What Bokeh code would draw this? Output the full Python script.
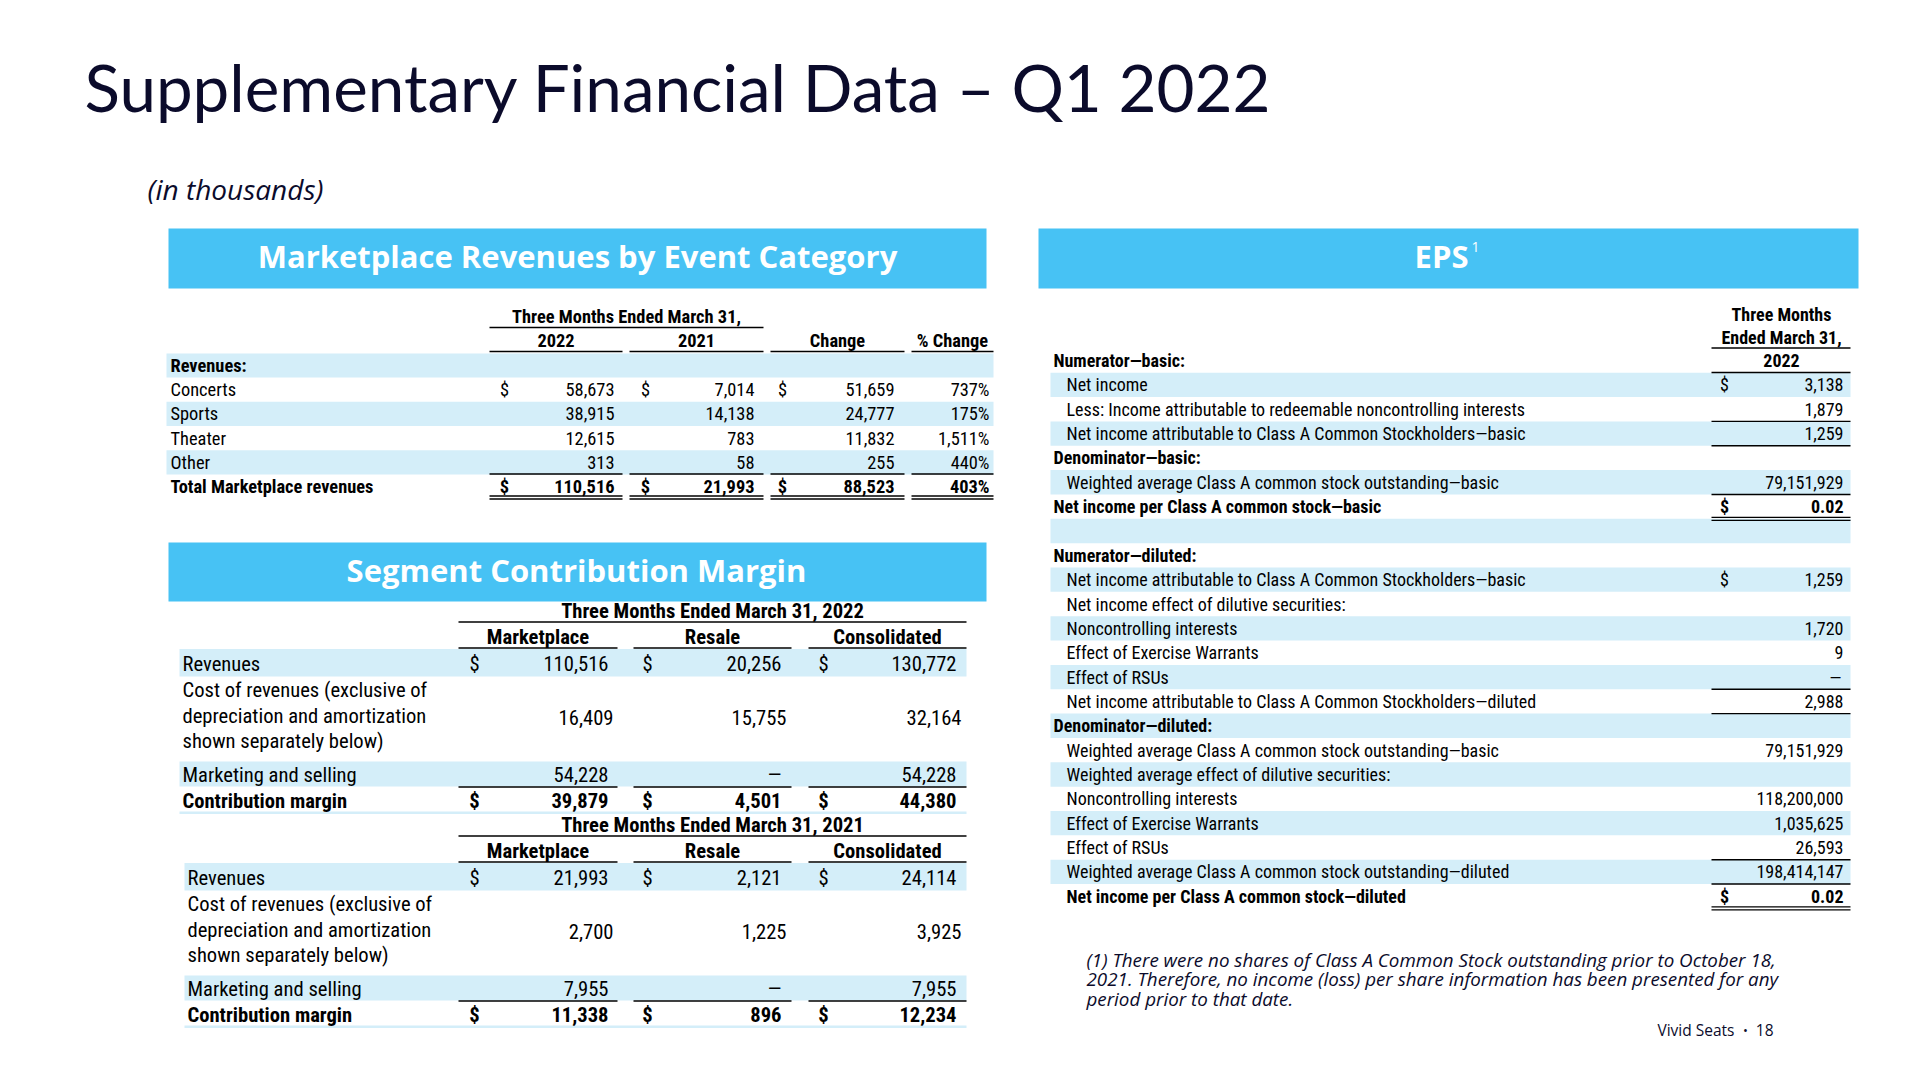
from collections import defaultdict
from bokeh.plotting import figure
from bokeh.models import Range1d
from bokeh.core.properties import value
from bokeh.embed import file_html
from bokeh.resources import INLINE

# ---------------- data ----------------
TITLE = "Supplementary Financial Data \u2013 Q1 2022"
SUBTITLE = "(in thousands)"

rev_title = "Marketplace Revenues by Event Category"
rev_period = "Three Months Ended March 31,"
rev_columns = ["2022", "2021", "Change", "% Change"]
rev_section = "Revenues:"
rev_categories = ["Concerts", "Sports", "Theater", "Other"]
rev_2022 = [58673, 38915, 12615, 313]
rev_2021 = [7014, 14138, 783, 58]
rev_change = [51659, 24777, 11832, 255]
rev_pct = ["737%", "175%", "1,511%", "440%"]
rev_total_label = "Total Marketplace revenues"
rev_total = [110516, 21993, 88523]
rev_total_pct = "403%"

seg_title = "Segment Contribution Margin"
seg_periods = ["Three Months Ended March 31, 2022", "Three Months Ended March 31, 2021"]
seg_columns = ["Marketplace", "Resale", "Consolidated"]
seg_row_labels = ["Revenues",
                  ["Cost of revenues (exclusive of", "depreciation and amortization", "shown separately below)"],
                  "Marketing and selling",
                  "Contribution margin"]
seg22_revenues = [110516, 20256, 130772]
seg22_cost = [16409, 15755, 32164]
seg22_marketing = [54228, 0, 54228]
seg22_margin = [39879, 4501, 44380]
seg21_revenues = [21993, 2121, 24114]
seg21_cost = [2700, 1225, 3925]
seg21_marketing = [7955, 0, 7955]
seg21_margin = [11338, 896, 12234]

eps_title = "EPS"
eps_header = ["Three Months", "Ended March 31,", "2022"]
eps_labels = [
    "Numerator\u2014basic:",
    "Net income",
    "Less: Income attributable to redeemable noncontrolling interests",
    "Net income attributable to Class A Common Stockholders\u2014basic",
    "Denominator\u2014basic:",
    "Weighted average Class A common stock outstanding\u2014basic",
    "Net income per Class A common stock\u2014basic",
    "",
    "Numerator\u2014diluted:",
    "Net income attributable to Class A Common Stockholders\u2014basic",
    "Net income effect of dilutive securities:",
    "Noncontrolling interests",
    "Effect of Exercise Warrants",
    "Effect of RSUs",
    "Net income attributable to Class A Common Stockholders\u2014diluted",
    "Denominator\u2014diluted:",
    "Weighted average Class A common stock outstanding\u2014basic",
    "Weighted average effect of dilutive securities:",
    "Noncontrolling interests",
    "Effect of Exercise Warrants",
    "Effect of RSUs",
    "Weighted average Class A common stock outstanding\u2014diluted",
    "Net income per Class A common stock\u2014diluted",
]
eps_values = [None, 3138, 1879, 1259, None, 79151929, 0.02, None, None, 1259, None,
              1720, 9, 0, 2988, None, 79151929, None, 118200000, 1035625, 26593,
              198414147, 0.02]

footnote = ["(1) There were no shares of Class A Common Stock outstanding prior to October 18,",
            "2021. Therefore, no income (loss) per share information has been presented for any",
            "period prior to that date."]
footer_brand = "Vivid Seats"
footer_page = "18"

# ---------------- styles ----------------
NAVY = "#0b0b2b"
BLUE = "#47c2f4"
SHADE = "#d4eef9"
NARROW = "Liberation Sans Narrow, Roboto Condensed, sans-serif"
TITLE_FONT = "Lato"
HEAD_FONT = "Open Sans"

p = figure(width=1904, height=1064, x_range=Range1d(0, 1904), y_range=Range1d(1064, 0),
           output_backend="svg", toolbar_location=None, min_border=0,
           x_axis_location=None, y_axis_location=None)
p.grid.visible = False
p.outline_line_color = None
p.background_fill_color = "white"
p.border_fill_color = "white"

texts = defaultdict(lambda: dict(x=[], y=[], text=[]))
lines = defaultdict(lambda: dict(x0=[], y0=[], x1=[], y1=[]))
quads = defaultdict(lambda: dict(left=[], right=[], top=[], bottom=[]))


def T(x, y, s, size, font=NARROW, style="normal", align="left", color="#000000"):
    d = texts[(font, size, style, align, color)]
    d["x"].append(x); d["y"].append(y); d["text"].append(s)


def L(x0, y0, x1, y1, color="#000000", w=1.3):
    d = lines[(color, w)]
    d["x0"].append(x0); d["y0"].append(y0); d["x1"].append(x1); d["y1"].append(y1)


def Q(l, r, t, b, color):
    d = quads[color]
    d["left"].append(l); d["right"].append(r); d["top"].append(t); d["bottom"].append(b)


def fmt(v):
    if v is None:
        return ""
    if v == 0:
        return "\u2014"
    if isinstance(v, float):
        return f"{v:.2f}"
    return f"{v:,}"


# ---------------- title ----------------
T(84, 86, TITLE, 65.5, TITLE_FONT, "normal", "left", NAVY)
T(147, 188, SUBTITLE, 28, HEAD_FONT, "italic", "left", NAVY)

# ---------------- table 1 ----------------
Q(168, 986, 228, 288, BLUE)
T(577, 255.5, rev_title, 31, HEAD_FONT, "bold", "center", "#ffffff")
FS1 = 18.4
col_seg1 = [(489, 622), (629, 763), (770, 904), (911, 993)]
col_right1 = [614, 754, 894, 989]
dollar1 = [504, 645, 782]
T(626, 316, rev_period, FS1, style="bold", align="center")
L(489, 327, 763, 327, w=1.6)
for (a, b), name in zip(col_seg1, rev_columns):
    T((a + b) / 2, 340, name, FS1, style="bold", align="center")
    L(a, 351, b, 351, w=1.6)
row_y1 = [365 + i * 24.2 for i in range(6)]
for i in (0, 2, 4):
    Q(166, 993, row_y1[i] - 12.1, row_y1[i] + 12.1, SHADE)
T(170, row_y1[0], rev_section, FS1, style="bold")
for i, cat in enumerate(rev_categories):
    y = row_y1[i + 1]
    T(170, y, cat, FS1)
    vals = [fmt(rev_2022[i]), fmt(rev_2021[i]), fmt(rev_change[i]), rev_pct[i]]
    for r, s in zip(col_right1, vals):
        T(r, y, s, FS1, align="right")
    if i == 0:
        for dx in dollar1:
            T(dx, y, "$", FS1, align="center")
yt = row_y1[5]
T(170, yt, rev_total_label, FS1, style="bold")
for r, s in zip(col_right1, [fmt(v) for v in rev_total] + [rev_total_pct]):
    T(r, yt, s, FS1, style="bold", align="right")
for dx in dollar1:
    T(dx, yt, "$", FS1, style="bold", align="center")
for a, b in col_seg1:
    L(a, yt - 12.5, b, yt - 12.5, w=1.3)
    L(a, yt + 9.5, b, yt + 9.5, w=1.4)
    L(a, yt + 12.5, b, yt + 12.5, w=1.4)

# ---------------- segment contribution margin ----------------
Q(168, 986, 542, 601, BLUE)
T(576, 569, seg_title, 31, HEAD_FONT, "bold", "center", "#ffffff")
FS2 = 20.6
col_seg2 = [(458, 617), (633, 791), (808, 966)]
col_right2 = [608, 781, 956]
dollar2 = [474, 647, 823]
blocks = [
    (610, 182, seg_periods[0], [seg22_revenues, seg22_cost, seg22_marketing, seg22_margin]),
    (824, 187, seg_periods[1], [seg21_revenues, seg21_cost, seg21_marketing, seg21_margin]),
]
for H, lx, period, rows in blocks:
    T(712, H, period, FS2, style="bold", align="center")
    L(458, H + 11.5, 966, H + 11.5, w=1.6)
    for (a, b), name in zip(col_seg2, seg_columns):
        T((a + b) / 2, H + 26, name, FS2, style="bold", align="center")
        L(a, H + 37.5, b, H + 37.5, w=1.6)
    Q(lx - 3, 966, H + 38.5, H + 66, SHADE)
    Q(lx - 3, 966, H + 151, H + 176, SHADE)
    Q(lx - 3, 966, H + 201, H + 203.5, SHADE)
    # revenues
    y = H + 53
    T(lx, y, seg_row_labels[0], FS2)
    for r, d, v in zip(col_right2, dollar2, rows[0]):
        T(d, y, "$", FS2, align="center")
        T(r, y, fmt(v), FS2, align="right")
    # cost (three lines)
    for k, line in enumerate(seg_row_labels[1]):
        T(lx, H + 79.5 + k * 25.5, line, FS2)
    for r, v in zip(col_right2, rows[1]):
        T(r + 5, H + 107, fmt(v), FS2, align="right")
    # marketing
    y = H + 164
    T(lx, y, seg_row_labels[2], FS2)
    for r, v in zip(col_right2, rows[2]):
        T(r, y, fmt(v), FS2, align="right")
    for a, b in col_seg2:
        L(a, H + 176.5, b, H + 176.5, w=1.4)
    # contribution margin
    y = H + 190
    T(lx, y, seg_row_labels[3], FS2, style="bold")
    for r, d, v in zip(col_right2, dollar2, rows[3]):
        T(d, y, "$", FS2, style="bold", align="center")
        T(r, y, fmt(v), FS2, style="bold", align="right")

# ---------------- EPS ----------------
Q(1038, 1858, 228, 288, BLUE)
T(1441, 255.5, eps_title, 31, HEAD_FONT, "bold", "center", "#ffffff")
T(1475, 246, "1", 14, HEAD_FONT, "normal", "center", "#ffffff")
FS3 = 18
ERX = 1843
EDX = 1724
EX0, EX1 = 1711, 1850
T(1781, 314, eps_header[0], FS3, style="bold", align="center")
T(1781, 337, eps_header[1], FS3, style="bold", align="center")
L(EX0, 347.5, EX1, 347.5, w=1.5)
T(1781, 360, eps_header[2], FS3, style="bold", align="center")
L(EX0, 372, EX1, 372, w=1.5)
BOLD_ROWS = {0, 4, 6, 8, 15, 22}
OUTDENT_ROWS = {0, 4, 6, 8, 15}
SHADED_ROWS = {1, 3, 5, 7, 9, 11, 13, 15, 17, 19, 21}
DOLLAR_ROWS = {1, 6, 9, 22}
STEP = 24.35
ey = [360 + i * STEP for i in range(len(eps_labels))]
for i in sorted(SHADED_ROWS):
    Q(1050, 1850, ey[i] - STEP / 2, ey[i] + STEP / 2, SHADE)
for i, (lab, v) in enumerate(zip(eps_labels, eps_values)):
    st = "bold" if i in BOLD_ROWS else "normal"
    x = 1053 if i in OUTDENT_ROWS else 1066
    if lab:
        T(x, ey[i], lab, FS3, style=st)
    if v is not None:
        T(ERX if v != 0 else ERX - 2, ey[i], fmt(v), FS3, style=st, align="right")
    if i in DOLLAR_ROWS:
        T(EDX, ey[i], "$", FS3, style=st, align="center")
h = STEP / 2
for i in (3, 6, 14, 21, 22):
    L(EX0, ey[i] - h, EX1, ey[i] - h, w=1.4)
for i in (3, 14):
    L(EX0, ey[i] + h, EX1, ey[i] + h, w=1.4)
for i in (6, 22):
    L(EX0, ey[i] + h - 1.5, EX1, ey[i] + h - 1.5, w=1.3)
    L(EX0, ey[i] + h + 1.5, EX1, ey[i] + h + 1.5, w=1.3)

# ---------------- footnote ----------------
for k, line in enumerate(footnote):
    T(1086, 959 + k * 19.5, line, 18.8, HEAD_FONT, "italic", "left", NAVY)
T(1734, 1029, footer_brand, 15.5, HEAD_FONT, "normal", "right", NAVY)
T(1745, 1029, "\u2022", 13, HEAD_FONT, "normal", "center", NAVY)
T(1773, 1029, footer_page, 15.5, HEAD_FONT, "normal", "right", NAVY)

# ---------------- emit ----------------
for color, d in quads.items():
    p.quad(left=d["left"], right=d["right"], top=d["top"], bottom=d["bottom"],
           fill_color=color, line_color=None)
for (color, w), d in lines.items():
    p.segment(x0=d["x0"], y0=d["y0"], x1=d["x1"], y1=d["y1"], line_color=color, line_width=w)
for (font, size, style, align, color), d in texts.items():
    p.text(x=d["x"], y=d["y"], text=d["text"], text_font=value(font), text_font_size=f"{size}px",
           text_font_style=style, text_align=align, text_baseline="middle", text_color=color)

open("out.html", "w").write(file_html(p, INLINE))
